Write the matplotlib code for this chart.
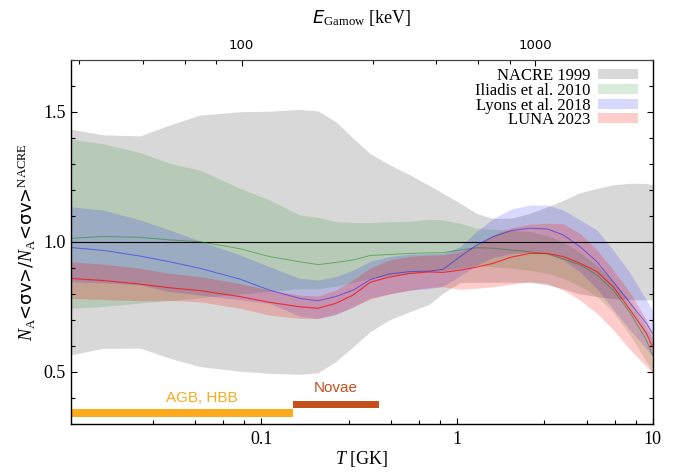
import matplotlib
matplotlib.use("Agg")
import matplotlib.pyplot as plt
from matplotlib.ticker import LogLocator, FuncFormatter, MultipleLocator, NullFormatter
import numpy as np

plt.rcParams['mathtext.fontset'] = 'custom'
plt.rcParams['mathtext.rm'] = 'Liberation Serif'
plt.rcParams['mathtext.it'] = 'Liberation Serif:italic'
plt.rcParams['mathtext.bf'] = 'Liberation Serif:bold'
plt.rcParams['mathtext.sf'] = 'DejaVu Sans'
plt.rcParams['mathtext.cal'] = 'DejaVu Sans:italic'
plt.rcParams['font.family'] = ['Liberation Serif', 'DejaVu Sans']

# ---------------- data ----------------
T = [0.0105, 0.0155, 0.024, 0.034, 0.0485, 0.078, 0.11, 0.157, 0.195, 0.24, 0.295,
     0.36, 0.45, 0.575, 0.72, 0.85, 1.04, 1.26, 1.53, 1.9, 2.36, 2.9, 3.5, 4.26,
     5.2, 6.3, 7.7, 9.3, 10.0]

nacre_hi = [1.435, 1.412, 1.408, 1.45, 1.488, 1.501, 1.503, 1.51, 1.504, 1.463, 1.399,
            1.34, 1.298, 1.258, 1.218, 1.187, 1.149, 1.11, 1.091, 1.092, 1.11, 1.136, 1.16,
            1.19, 1.206, 1.22, 1.226, 1.225, 1.219]
nacre_mid = [1.0] * 29
nacre_lo = [0.565, 0.591, 0.592, 0.553, 0.521, 0.503, 0.495, 0.491, 0.497, 0.540, 0.597,
            0.655, 0.70, 0.732, 0.76, 0.803, 0.844, 0.845, 0.845, 0.845, 0.845, 0.835, 0.82,
            0.80, 0.79, 0.782, 0.778, 0.777, 0.777]

iliadis_hi = [1.396, 1.378, 1.344, 1.303, 1.277, 1.206, 1.162, 1.104, 1.095, 1.078, 1.075,
              1.074, 1.078, 1.08, 1.087, 1.085, 1.072, 1.053, 1.05, 1.045, 1.04, 1.025, 1.0,
              0.96, 0.91, 0.85, 0.77, 0.67, 0.63]
iliadis_mid = [1.014, 1.021, 1.018, 1.008, 1.001, 0.974, 0.944, 0.924, 0.913, 0.921, 0.931,
               0.948, 0.952, 0.956, 0.958, 0.959, 0.969, 0.978, 0.976, 0.969, 0.962, 0.954,
               0.935, 0.912, 0.873, 0.815, 0.726, 0.623, 0.565]
iliadis_lo = [0.745, 0.752, 0.765, 0.775, 0.785, 0.80, 0.81, 0.82, 0.82, 0.83, 0.845,
              0.86, 0.87, 0.88, 0.885, 0.89, 0.90, 0.91, 0.905, 0.90, 0.89, 0.88, 0.86,
              0.83, 0.79, 0.73, 0.64, 0.54, 0.50]

lyons_hi = [1.136, 1.123, 1.085, 1.046, 1.004, 0.95, 0.905, 0.86, 0.854, 0.867, 0.892,
            0.925, 0.944, 0.953, 0.955, 0.956, 0.982, 1.04, 1.09, 1.127, 1.142, 1.142, 1.123,
            1.085, 1.046, 0.969, 0.879, 0.777, 0.738]
lyons_mid = [0.979, 0.968, 0.946, 0.924, 0.899, 0.857, 0.815, 0.783, 0.774, 0.79, 0.815,
             0.855, 0.877, 0.886, 0.888, 0.895, 0.944, 0.988, 1.02, 1.044, 1.053, 1.050,
             1.027, 0.982, 0.924, 0.847, 0.764, 0.687, 0.649]
lyons_lo = [0.847, 0.843, 0.835, 0.809, 0.796, 0.778, 0.764, 0.715, 0.706, 0.72, 0.75,
            0.785, 0.80, 0.815, 0.82, 0.83, 0.87, 0.91, 0.94, 0.955, 0.96, 0.955, 0.93,
            0.885, 0.82, 0.74, 0.66, 0.59, 0.56]

luna_hi = [0.924, 0.915, 0.899, 0.879, 0.867, 0.84, 0.815, 0.796, 0.792, 0.815, 0.854,
           0.90, 0.93, 0.945, 0.95, 0.95, 0.963, 0.988, 1.027, 1.055, 1.068, 1.072, 1.07,
           1.033, 0.969, 0.892, 0.803, 0.70, 0.649]
luna_mid = [0.860, 0.852, 0.838, 0.824, 0.813, 0.79, 0.768, 0.751, 0.745, 0.764, 0.796,
            0.845, 0.865, 0.879, 0.885, 0.883, 0.892, 0.903, 0.918, 0.942, 0.956, 0.956,
            0.944, 0.918, 0.886, 0.828, 0.738, 0.649, 0.597]
luna_lo = [0.783, 0.779, 0.774, 0.775, 0.77, 0.745, 0.719, 0.706, 0.706, 0.723, 0.751,
           0.78, 0.80, 0.815, 0.825, 0.828, 0.818, 0.822, 0.828, 0.838, 0.847, 0.840,
           0.815, 0.777, 0.726, 0.662, 0.585, 0.521, 0.495]

labels = ["NACRE 1999", "Iliadis et al. 2010", "Lyons et al. 2018", "LUNA 2023"]

agb_range = [0.0105, 0.145]
agb_y = [0.328, 0.357]
novae_range = [0.145, 0.40]
novae_y = [0.360, 0.388]

E0_coef = 542.0  # keV * T9^(2/3)

# ---------------- plot ----------------
fig = plt.figure(figsize=(6.79, 4.72), dpi=100)
ax = fig.add_axes([0.104, 0.1017, 0.857, 0.7712])

ax.fill_between(T, nacre_lo, nacre_hi, color='grey', alpha=0.3, lw=0, label=labels[0])
ax.fill_between(T, iliadis_lo, iliadis_hi, color='green', alpha=0.15, lw=0, label=labels[1])
ax.fill_between(T, lyons_lo, lyons_hi, color='blue', alpha=0.15, lw=0, label=labels[2])
ax.fill_between(T, luna_lo, luna_hi, color='red', alpha=0.2, lw=0, label=labels[3])

ax.plot(T, nacre_mid, color='black', lw=0.8)
ax.plot(T, iliadis_mid, color='green', lw=0.7, alpha=0.45)
ax.plot(T, lyons_mid, color='blue', lw=0.7, alpha=0.45)
ax.plot(T, luna_mid, color='red', lw=0.8, alpha=0.7)

ax.fill_between(agb_range, agb_y[0], agb_y[1], color='#fdaa1c', lw=0)
ax.fill_between(novae_range, novae_y[0], novae_y[1], color='#c4501e', lw=0)
ax.text(np.sqrt(agb_range[0] * agb_range[1]) * 1.28, agb_y[1] + 0.016, 'AGB, HBB',
        color='#fdaa1c', fontsize=11, family='Liberation Sans', ha='center', va='bottom')
ax.text(np.sqrt(novae_range[0] * novae_range[1]), novae_y[1] + 0.022, 'Novae',
        color='#c4501e', fontsize=11, family='Liberation Sans', ha='center', va='bottom')

ax.set_xscale('log')
ax.set_xlim(0.0106, 10)
ax.set_ylim(0.3, 1.7)

subs = [2.8, 4.6, 6.4, 8.2]
ax.xaxis.set_major_locator(LogLocator(base=10))
ax.xaxis.set_minor_locator(LogLocator(base=10, subs=subs))
ax.xaxis.set_minor_formatter(NullFormatter())
ax.xaxis.set_major_formatter(FuncFormatter(lambda v, p: '%g' % v))
ax.yaxis.set_major_locator(MultipleLocator(0.5))
ax.yaxis.set_minor_locator(MultipleLocator(0.1))
ax.yaxis.set_major_formatter(FuncFormatter(lambda v, p: '%.1f' % v))

ax.tick_params(which='both', direction='in', right=True, top=False, labelsize=13)
ax.tick_params(which='major', length=4.5, width=0.8)
ax.tick_params(which='minor', length=3, width=0.8)
ax.tick_params(axis='x', pad=5)

ax.set_xlabel(r'$T$ [GK]', fontsize=13, labelpad=1)
ax.set_ylabel(r'$N_{\rm A}$<σv>/$N_{\rm A}$<σv>$^{\rm NACRE}$',
              fontsize=13, labelpad=4, family=['DejaVu Sans'])

def fwd(t):
    t = np.asarray(t, dtype=float)
    return E0_coef * np.abs(t) ** (2.0 / 3.0)

def inv(e):
    e = np.asarray(e, dtype=float)
    return (np.abs(e) / E0_coef) ** 1.5

sec = ax.secondary_xaxis('top', functions=(fwd, inv))
sec.xaxis.set_major_locator(LogLocator(base=10))
sec.xaxis.set_minor_locator(LogLocator(base=10, subs=subs))
sec.xaxis.set_minor_formatter(NullFormatter())
sec.xaxis.set_major_formatter(FuncFormatter(
    lambda v, p: ('%d' % round(v)) if fwd(0.0106) <= v <= fwd(10) else ''))
sec.tick_params(which='both', direction='in')
sec.tick_params(which='major', length=4.5, width=0.8, labelsize=9.5, pad=6)
sec.tick_params(which='minor', length=3, width=0.8)
for lab in sec.get_xticklabels():
    lab.set_family('DejaVu Sans')
sec.set_xlabel(r'$\mathcal{E}_{\rm Gamow}$ [keV]', fontsize=13, labelpad=11)
sec.spines['top'].set_color('#444444')

for s in ['left', 'bottom', 'right']:
    ax.spines[s].set_linewidth(1.0)
ax.spines['top'].set_color('#444444')

leg = ax.legend(loc='upper right', frameon=False, markerfirst=False, fontsize=12,
                handlelength=2.4, handleheight=0.55, labelspacing=-0.08,
                handletextpad=0.45, borderaxespad=0.1, bbox_to_anchor=(0.99, 1.0))
for t in leg.get_texts():
    t.set_ha('right')

fig.savefig('out.png', dpi=100)
